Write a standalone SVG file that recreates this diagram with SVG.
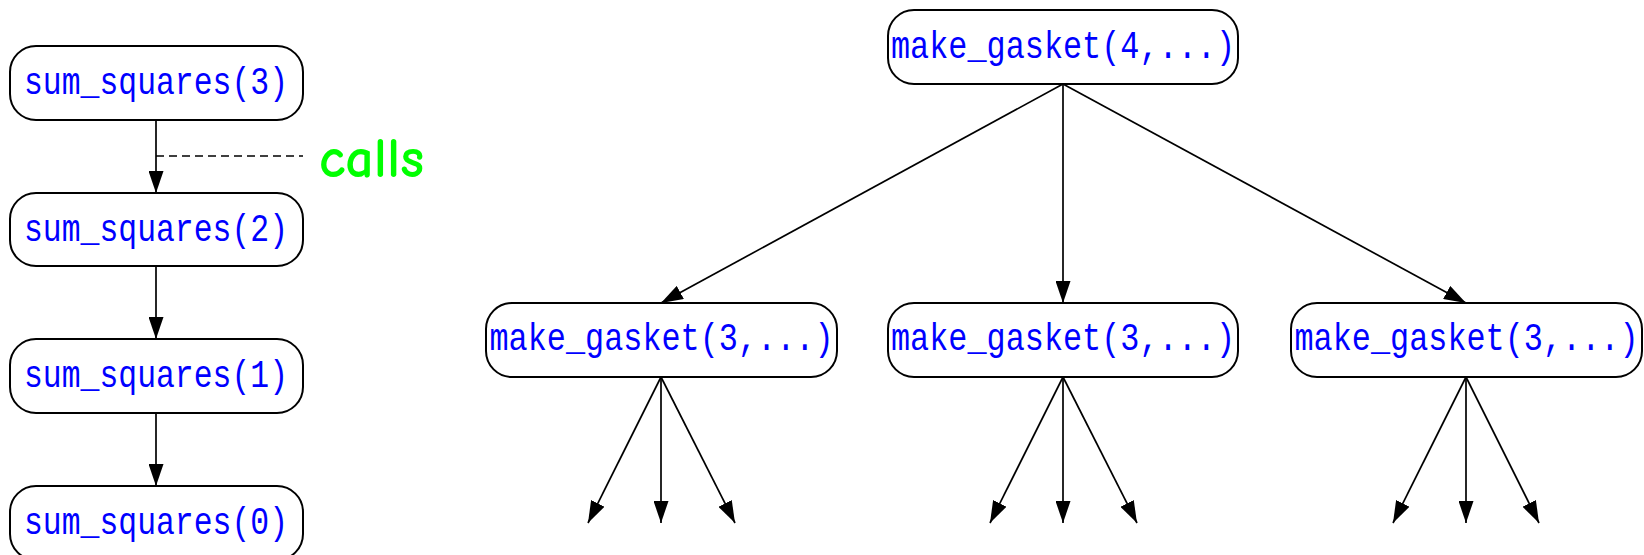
<svg xmlns="http://www.w3.org/2000/svg" width="1644" height="555" viewBox="0 0 1644 555">
<style>
.box{fill:#fff;stroke:#000;stroke-width:2}
.lbl{font-family:"Liberation Mono","Courier New",monospace;font-size:39px;fill:#0000ff;text-anchor:middle}
.edge{stroke:#000;stroke-width:1.7;fill:none;marker-end:url(#ah)}
</style>
<defs>
<marker id="ah" markerUnits="userSpaceOnUse" markerWidth="22" markerHeight="15" refX="22" refY="7.5" orient="auto">
<path d="M0,0 L22,7.5 L0,15 z" fill="#000"/>
</marker>
</defs>
<rect width="1644" height="555" fill="#fff"/>
<g id="connectors">
<line class="edge" x1="156" y1="120" x2="156" y2="193"/>
<line class="edge" x1="156" y1="266" x2="156" y2="339"/>
<line class="edge" x1="156" y1="413" x2="156" y2="486"/>
<line x1="156" y1="156" x2="303" y2="156" stroke="#000" stroke-width="1.4" stroke-dasharray="8,5"/>
<line class="edge" x1="1063" y1="84" x2="661" y2="303"/>
<line class="edge" x1="1063" y1="84" x2="1063" y2="303"/>
<line class="edge" x1="1063" y1="84" x2="1466" y2="303"/>
<line class="edge" x1="661" y1="377" x2="588" y2="523"/>
<line class="edge" x1="661" y1="377" x2="661" y2="523"/>
<line class="edge" x1="661" y1="377" x2="735" y2="523"/>
<line class="edge" x1="1063" y1="377" x2="990" y2="523"/>
<line class="edge" x1="1063" y1="377" x2="1063" y2="523"/>
<line class="edge" x1="1063" y1="377" x2="1137" y2="523"/>
<line class="edge" x1="1466" y1="377" x2="1393" y2="523"/>
<line class="edge" x1="1466" y1="377" x2="1466" y2="523"/>
<line class="edge" x1="1466" y1="377" x2="1539" y2="523"/>
</g>
<g id="ss3"><rect class="box" x="10" y="46" width="293" height="74" rx="26"/><text class="lbl" x="156" y="94" textLength="264" lengthAdjust="spacingAndGlyphs">sum_squares(3)</text></g>
<g id="ss2"><rect class="box" x="10" y="193" width="293" height="73" rx="26"/><text class="lbl" x="156" y="241" textLength="264" lengthAdjust="spacingAndGlyphs">sum_squares(2)</text></g>
<g id="ss1"><rect class="box" x="10" y="339" width="293" height="74" rx="26"/><text class="lbl" x="156" y="387" textLength="264" lengthAdjust="spacingAndGlyphs">sum_squares(1)</text></g>
<g id="ss0"><rect class="box" x="10" y="486" width="293" height="74" rx="26"/><text class="lbl" x="156" y="534" textLength="264" lengthAdjust="spacingAndGlyphs">sum_squares(0)</text></g>
<g id="calls"><text x="319" y="177" font-family="'Comic Neue','Comic Sans MS',Lato,sans-serif" font-size="56" font-weight="bold" fill="#00ff00" textLength="105" lengthAdjust="spacingAndGlyphs">calls</text></g>
<g id="mg4"><rect class="box" x="888" y="10" width="350" height="74" rx="26"/><text class="lbl" x="1063" y="58" textLength="344" lengthAdjust="spacingAndGlyphs">make_gasket(4,...)</text></g>
<g id="mg3a"><rect class="box" x="486" y="303" width="351" height="74" rx="26"/><text class="lbl" x="661.5" y="350" textLength="344" lengthAdjust="spacingAndGlyphs">make_gasket(3,...)</text></g>
<g id="mg3b"><rect class="box" x="888" y="303" width="350" height="74" rx="26"/><text class="lbl" x="1063" y="350" textLength="344" lengthAdjust="spacingAndGlyphs">make_gasket(3,...)</text></g>
<g id="mg3c"><rect class="box" x="1291" y="303" width="351" height="74" rx="26"/><text class="lbl" x="1466.5" y="350" textLength="344" lengthAdjust="spacingAndGlyphs">make_gasket(3,...)</text></g>
</svg>
